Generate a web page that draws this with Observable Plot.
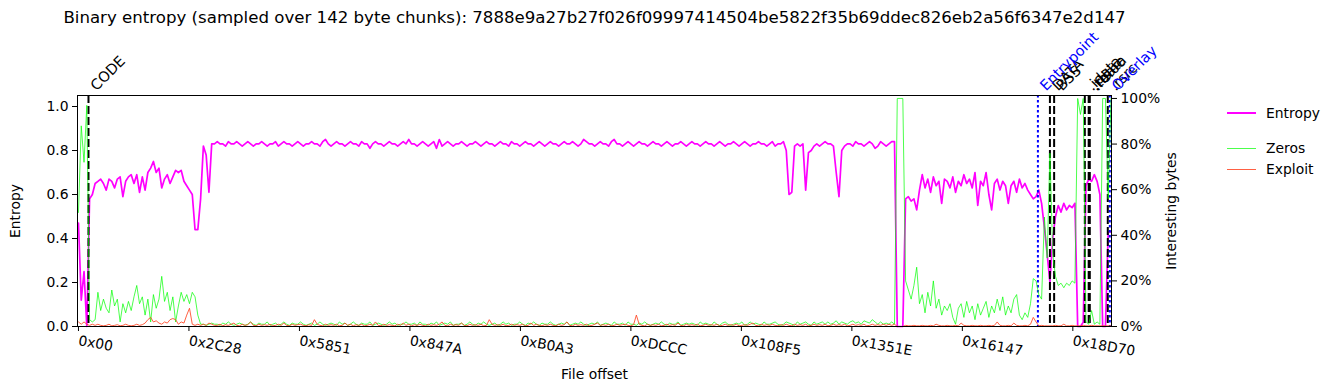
<!DOCTYPE html>
<html><head><meta charset="utf-8">
<script src="https://cdn.jsdelivr.net/npm/d3@7"></script>
<script src="https://cdn.jsdelivr.net/npm/@observablehq/plot@0.6"></script>
<style>
body{margin:0;background:#fff;font-family:"DejaVu Sans",sans-serif;position:relative;width:1335px;height:390px;overflow:hidden}
#title{height:32px;line-height:32px;width:1189px;text-align:center;font-size:16.62px;white-space:nowrap;padding-top:2px;box-sizing:border-box;color:#000}
.item{position:absolute;left:1227px;display:flex;align-items:center;font-size:13.9px;height:20px;color:#000}
.swatch{width:29px;margin-right:10px}
svg{display:block}
</style></head><body>
<div id="title"></div>
<div id="chart"></div>
<div id="legend"></div>
<script>
const title = "Binary entropy (sampled over 142 byte chunks): 7888e9a27b27f026f09997414504be5822f35b69ddec826eb2a56f6347e2d147";
const CHUNK = 142;      // bytes per chunk
const STEP = 2;         // one value every 2 chunks
const xTickLabels = ["0x00","0x2C28","0x5851","0x847A","0xB0A3","0xDCCC","0x108F5","0x1351E","0x16147","0x18D70"];
const leftTicks = [0, 0.2, 0.4, 0.6, 0.8, 1.0];
const rightTicks = [0, 0.2, 0.4, 0.6, 0.8, 1.0];
const sectionNames = ["CODE","DATA","BSS",".idata",".tls",".rdata",".reloc",".rsrc"];
const sectionOffsets = [0x400, 99400, 99830, 102970, 103380, 103380, 103480, 105320];
const markerNames = ["Entrypoint","Overlay"];
const markerOffsets = [98170, 105530];

// Entropy (0..1)
const entropyHead = [
.47,.12,.25,0,.58,.6,.65,.66,.67,.65,
.62,.67,.66,.63,.67,.68,.59,.66,.68,.69,
.65,.69,.61,.68,.62,.7,.72,.75,.7,.72,
.63,.67,.69,.65,.68,.71,.7,.71,.66,.64,
.62,.6,.44,.44,.58,.82,.78,.61,.83,.83];
const entropyBody = [
.84,.83,.83,.82,.84,.83,.83,.84,.83,.82,
.83,.84,.83,.82,.83,.83,.84,.83,.82,.83,
.83,.84,.82,.83,.84,.83,.83,.82,.83,.84,
.83,.82,.83,.83,.84,.83,.83,.82,.84,.85,
.83,.82,.83,.84,.83,.83,.82,.83,.84,.83,
.83,.82,.84,.83,.83,.81,.83,.84,.83,.83,
.82,.83,.84,.83,.83,.82,.83,.84,.83,.85,
.83,.83,.82,.83,.84,.83,.82,.83,.84,.81,
.85,.82,.83,.84,.83,.82,.83,.83,.84,.83,
.82,.83,.83,.84,.83,.82,.83,.84,.83,.83,
.82,.83,.84,.83,.83,.82,.84,.83,.83,.82,
.83,.84,.83,.83,.82,.83,.84,.83,.82,.83,
.84,.83,.83,.82,.83,.84,.83,.83,.84,.83,
.82,.83,.85,.84,.83,.83,.82,.83,.84,.83,
.83,.82,.84,.85,.83,.83,.82,.83,.84,.83,
.82,.83,.84,.83,.83,.82,.83,.84,.83,.83,
.82,.83,.84,.83,.82,.83,.83,.84,.83,.82,
.83,.84,.83,.83,.82,.83,.84,.83,.83,.82,
.83,.84,.83,.82,.83,.83,.84,.83,.82,.83,
.84,.83,.82,.83,.83,.84,.83,.83,.82,.83,
.84,.82,.83,.83,.84,.8,.6,.61,.82,.83,
.82,.83,.62,.79,.8,.82,.83,.82,.83,.84,
.83,.83,.82,.7,.59,.8,.82,.83,.83,.82,
.84,.83,.83,.82,.83,.84,.83,.81,.82,.84];
const entropyTail = [
.83,.82,.83,.84,.84,0,0,0,.58,.59,
.57,.58,.53,.62,.69,.63,.67,.61,.68,.64,
.66,.56,.67,.66,.63,.68,.61,.66,.64,.69,
.65,.67,.63,.7,.55,.66,.64,.7,.6,.53,
.65,.67,.62,.66,.64,.56,.64,.66,.61,.67,
.63,.65,.62,.6,.58,.59,.62,.56,.45,.33,
.2,.4,.5,.55,.52,.56,.53,.55,.54,.56,
0,0,.02,.64,.67,.66,.69,.66,.6,0,
0,.43,.43];

// Zeros (fraction of chunk, right axis)
const zerosHead = [
.5,.88,.72,.97,.03,.02,.03,.15,.07,.12,
.08,.06,.16,.09,.12,.02,.1,.06,.11,.07,
.13,.18,.1,.13,.05,.12,.02,.14,.08,.12,
.22,.11,.15,.07,.13,.02,.09,.15,.11,.14,
.1,.15,.13,.05,.01,.01,.005,.01,.015,.01];
const zerosBody = [
.01,.005,.015,.01,.02,.01,.005,.01,.015,.01,
.005,.01,.02,.01,.005,.015,.01,.01,.02,.005,
.01,.015,.005,.01,.02,.01,.005,.015,.01,.01,
.02,.01,.005,.01,.015,.005,.01,.02,.01,.005,
.01,.015,.01,.005,.02,.01,.015,.005,.01,.02,
.01,.005,.015,.01,.01,.02,.005,.01,.015,.01,
.005,.01,.02,.01,.015,.005,.01,.01,.02,.01,
.01,.015,.005,.02,.01,.01,.005,.015,.01,.02,
.005,.01,.015,.01,.02,.005,.01,.01,.015,.005,
.01,.02,.01,.005,.015,.01,.02,.01,.005,.01,
.015,.005,.01,.02,.01,.015,.005,.01,.01,.02,
.01,.005,.015,.01,.02,.01,.005,.015,.01,.01,
.02,.01,.005,.01,.015,.01,.02,.005,.01,.015,
.01,.02,.01,.005,.01,.015,.01,.02,.005,.01,
.015,.01,.005,.02,.01,.01,.015,.005,.02,.01,
.01,.005,.015,.01,.02,.01,.005,.01,.015,.01,
.02,.01,.005,.015,.01,.01,.02,.005,.01,.015,
.01,.015,.01,.005,.02,.01,.015,.01,.005,.02,
.01,.005,.015,.02,.01,.005,.01,.015,.01,.02,
.005,.01,.02,.01,.015,.01,.005,.02,.01,.01,
.015,.02,.01,.005,.01,.02,.015,.01,.005,.02,
.01,.015,.02,.01,.005,.02,.01,.015,.02,.01,
.02,.01,.015,.025,.01,.02,.015,.01,.02,.025,
.015,.02,.01,.025,.02,.015,.03,.02,.01,.02];
const zerosTail = [
.01,.015,.01,.02,.01,1,1,1,.2,.16,
.12,.18,.26,.1,.14,.06,.15,.09,.2,.08,
.12,.05,.09,.07,.1,.04,.01,.08,.1,.04,
.11,.06,.09,.03,.1,.05,.08,.11,.04,.09,
.06,.12,.07,.13,.05,.09,.06,.12,.14,.05,
.03,.06,.04,.1,.21,.2,.14,.12,.48,.3,
.76,.32,.22,.18,.19,.17,.19,.18,.2,.19,
1,.93,1,.02,.01,.07,.01,.02,.01,1,
1,.56,1];

// Exploit (fraction of chunk, right axis)
const exploitHead = [
.02,.01,.02,.01,.005,.01,.005,.01,.005,.003,
.005,.01,.003,.005,.008,.003,.005,.01,.005,.003,
.005,.01,.005,.008,.015,.03,.04,.02,.025,.015,
.01,.02,.015,.03,.035,.03,.01,.02,.015,.05,
.08,.01,.005,.01,.005,.01,.005,.015,.01,.005];
const exploitBody = [
.005,.01,.003,.008,.005,.01,.015,.005,.003,.01,
.005,.008,.02,.005,.003,.01,.005,.008,.005,.01,
.003,.005,.01,.005,.015,.005,.003,.01,.005,.008,
.01,.005,.003,.008,.005,.03,.01,.005,.003,.01,
.005,.008,.005,.01,.003,.005,.015,.005,.01,.003,
.008,.005,.01,.003,.005,.01,.005,.02,.005,.003,
.01,.005,.008,.005,.003,.01,.005,.015,.005,.01,
.003,.008,.005,.01,.005,.003,.01,.005,.008,.005,
.01,.02,.005,.003,.01,.005,.008,.005,.015,.005,
.003,.01,.005,.008,.005,.01,.003,.005,.03,.01,
.005,.008,.005,.01,.003,.005,.01,.005,.008,.005,
.01,.003,.005,.015,.005,.01,.005,.003,.008,.005,
.01,.005,.003,.01,.005,.008,.02,.005,.003,.01,
.005,.008,.005,.01,.003,.005,.01,.015,.005,.008,
.005,.01,.003,.005,.01,.005,.008,.01,.005,.003,
.008,.05,.01,.005,.003,.01,.005,.008,.005,.01,
.003,.005,.01,.005,.008,.005,.015,.005,.003,.01,
.005,.008,.005,.01,.003,.005,.01,.005,.008,.005,
.01,.003,.005,.01,.005,.008,.005,.01,.003,.005,
.008,.005,.01,.015,.005,.003,.01,.005,.008,.005,
.01,.005,.003,.008,.005,.01,.005,.003,.01,.005,
.008,.005,.01,.003,.005,.01,.005,.008,.005,.01,
.003,.005,.01,.005,.008,.005,.01,.003,.005,.01,
.005,.008,.005,.01,.003,.005,.01,.005,.008,.005];
const exploitTail = [
.01,.005,.01,.005,.01,0,0,0,.005,.003,
.003,.005,.003,.003,.005,.003,.003,.005,.003,.01,
.005,.003,.003,.005,.003,.003,.005,.003,.015,.005,
.003,.003,.005,.003,.003,.005,.003,.003,.005,.003,
.005,.02,.005,.003,.003,.005,.003,.015,.005,.003,
.003,.005,.003,.01,.04,.02,.003,.005,.003,.003,
.003,.003,.005,.003,.003,.01,.003,.003,.005,.003,
.003,.003,.005,.003,.003,.005,.003,.003,.003,.003,
.003,.003,.003];

const entropy = [...entropyHead, ...entropyBody, ...entropyTail];
const zeros = [...zerosHead, ...zerosBody, ...zerosTail];
const exploit = [...exploitHead, ...exploitBody, ...exploitTail];

const LEFT_MAX = 1.05, RIGHT_MAX = 1.013;
const k = LEFT_MAX / RIGHT_MAX;   // map right-axis fraction onto left-axis units

const rows = entropy.map((e, i) => ({x: i * STEP * CHUNK, e, z: zeros[i], p: exploit[i]}));
const xTicks = xTickLabels.map(s => parseInt(s, 16));
const xLabelOf = new Map(xTicks.map((v, i) => [v, xTickLabels[i]]));
const sections = sectionNames.map((name, i) => ({name, offset: sectionOffsets[i]}));
const markers = markerNames.map((name, i) => ({name, offset: markerOffsets[i]}));

document.getElementById("title").textContent = title;

const chart = Plot.plot({
  width: 1335, height: 358,
  marginLeft: 77, marginRight: 224, marginTop: 63, marginBottom: 64,
  style: {fontFamily: "DejaVu Sans, sans-serif", fontSize: "13.9px", background: "white", color: "black", overflow: "visible"},
  x: {domain: [-100, 105700]},
  y: {domain: [0, LEFT_MAX]},
  marks: [
    Plot.line(rows, {x: "x", y: "e", stroke: "#ff00ff", strokeWidth: 1.7}),
    Plot.ruleX(sections, {x: "offset", stroke: "black", strokeWidth: 2, strokeDasharray: "8,3"}),
    Plot.ruleX(markers, {x: "offset", stroke: "blue", strokeWidth: 2, strokeDasharray: "2.5,2.5"}),
    Plot.line(rows, {x: "x", y: d => d.z * k, stroke: "#00ff00", strokeOpacity: 0.7, strokeWidth: 1}),
    Plot.line(rows, {x: "x", y: d => d.p * k, stroke: "#ff4422", strokeOpacity: 0.85, strokeWidth: 1}),
    Plot.frame({stroke: "black", strokeWidth: 1}),
    Plot.text(sections, {x: "offset", text: "name", frameAnchor: "top", rotate: -45, textAnchor: "start", lineAnchor: "bottom", dx: 8, dy: -4, fill: "black", fontSize: 14.5}),
    Plot.text(markers, {x: "offset", text: "name", frameAnchor: "top", rotate: -45, textAnchor: "start", lineAnchor: "bottom", dx: 8, dy: -4, fill: "blue", fontSize: 14.5}),
    Plot.axisY(leftTicks, {anchor: "left", tickFormat: d3.format(".1f"), tickSize: 5, tickPadding: 4, label: "Entropy", labelAnchor: "center", labelArrow: "none", labelOffset: 67}),
    Plot.axisY(rightTicks.map(p => p * k), {anchor: "right", tickFormat: d => Math.round(d / k * 100) + "%", tickSize: 5, tickPadding: 4, label: "Interesting bytes", labelAnchor: "center", labelArrow: "none", labelOffset: 64}),
    Plot.axisX(xTicks, {anchor: "bottom", tickFormat: d => xLabelOf.get(d), tickRotate: 10, textAnchor: "start", tickSize: 5, tickPadding: 9, label: "File offset", labelAnchor: "center", labelArrow: "none", labelOffset: 52})
  ]
});
document.getElementById("chart").appendChild(chart);

const legendItems = [
  {name: "Entropy", color: "#ff00ff", width: 2, top: 103},
  {name: "Zeros", color: "rgba(0,255,0,0.7)", width: 1, top: 138},
  {name: "Exploit", color: "rgba(255,68,34,0.85)", width: 1, top: 159}
];
const legend = document.getElementById("legend");
for (const it of legendItems) {
  const d = document.createElement("div");
  d.className = "item";
  d.style.top = it.top + "px";
  const sw = document.createElement("div");
  sw.className = "swatch";
  sw.style.borderTop = it.width + "px solid " + it.color;
  const t = document.createElement("span");
  t.textContent = it.name;
  d.appendChild(sw); d.appendChild(t);
  legend.appendChild(d);
}
</script>
</body></html>
